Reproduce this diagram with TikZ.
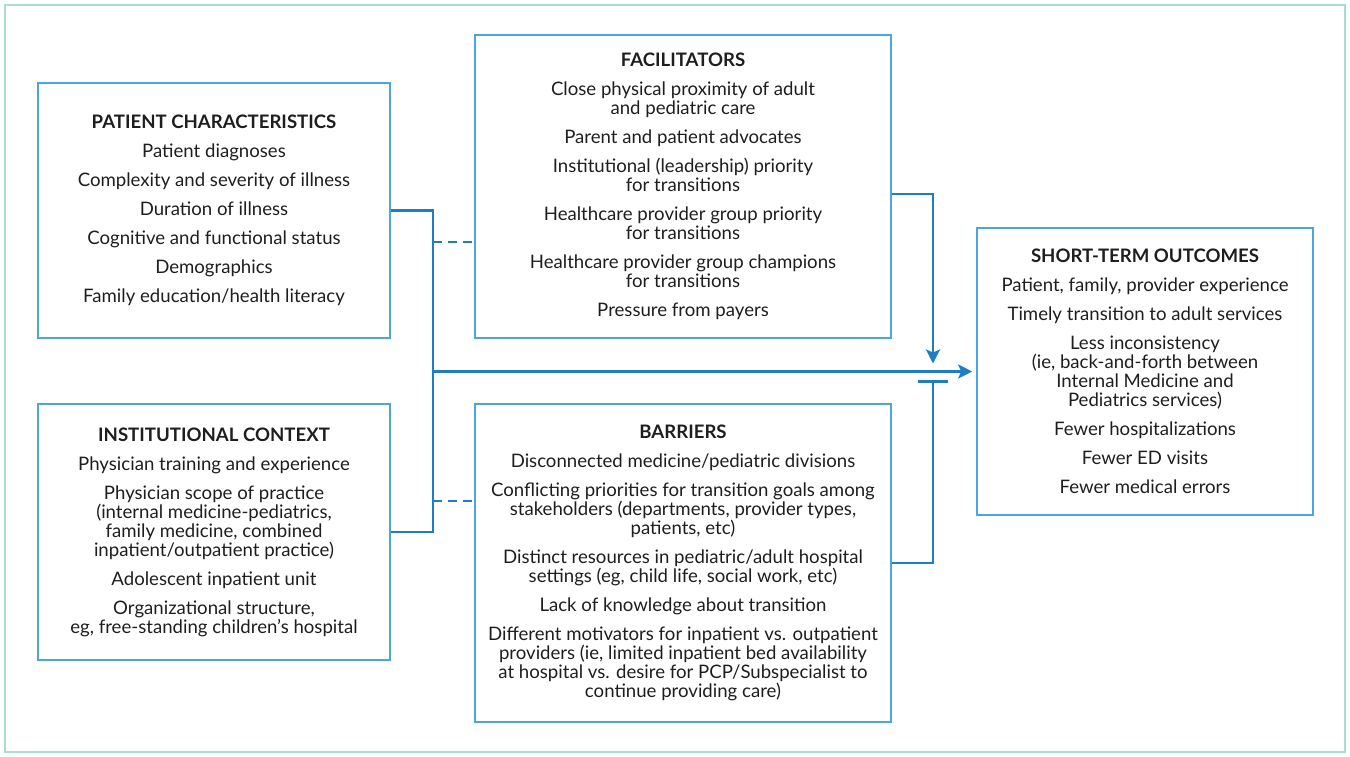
\documentclass[tikz,border=0pt]{standalone}
\usepackage{fontspec}
\setmainfont{Lato}
\usetikzlibrary{arrows.meta,calc}
\definecolor{boxblue}{HTML}{4BA6DE}
\definecolor{linkblue}{HTML}{1F7DC2}
\definecolor{framegreen}{HTML}{A8DFCB}
\definecolor{txt}{HTML}{1E1E1E}
\begin{document}
\begin{tikzpicture}[x=1pt,y=-1pt,
  box/.style={draw=boxblue,line width=1.6pt,align=center,text=txt,
    font=\fontsize{18.6}{19}\selectfont,inner sep=0pt},
  link/.style={draw=linkblue,line width=2.8pt},
  dlink/.style={link,dash pattern=on 9pt off 6pt},
  tip/.style={-{Stealth[length=14pt,width=14pt,inset=3pt]}}]
\useasboundingbox (0,0) rectangle (1350,756);
\draw[framegreen,line width=2.5pt] (5,5) rectangle (1345,752);

\node[box,minimum width=352pt,minimum height=255pt] (pc) at (214,210.5)
 {\textbf{PATIENT CHARACTERISTICS}\\[10pt]
  Patient diagnoses\\[10pt]
  Complexity and severity of illness\\[10pt]
  Duration of illness\\[10pt]
  Cognitive and functional status\\[10pt]
  Demographics\\[10pt]
  Family education/health literacy};

\node[box,minimum width=352pt,minimum height=256pt] (ic) at (214,532)
 {\textbf{INSTITUTIONAL CONTEXT}\\[10pt]
  Physician training and experience\\[10pt]
  Physician scope of practice\\
  (internal medicine-pediatrics,\\
  family medicine, combined\\
  inpatient/outpatient practice)\\[10pt]
  Adolescent inpatient unit\\[10pt]
  Organizational structure,\\
  eg, free-standing children’s hospital};

\node[box,minimum width=416pt,minimum height=303pt] (fac) at (683,186.5)
 {\textbf{FACILITATORS}\\[10pt]
  Close physical proximity of adult\\
  and pediatric care\\[10pt]
  Parent and patient advocates\\[10pt]
  Institutional (leadership) priority\\
  for transitions\\[10pt]
  Healthcare provider group priority\\
  for transitions\\[10pt]
  Healthcare provider group champions\\
  for transitions\\[10pt]
  Pressure from payers};

\node[box,minimum width=416pt,minimum height=318pt] (bar) at (683,563)
 {\textbf{BARRIERS}\\[10pt]
  Disconnected medicine/pediatric divisions\\[10pt]
  Conflicting priorities for transition goals among\\
  stakeholders (departments, provider types,\\
  patients, etc)\\[10pt]
  Distinct resources in pediatric/adult hospital\\
  settings (eg, child life, social work, etc)\\[10pt]
  Lack of knowledge about transition\\[10pt]
  Different motivators for inpatient vs. outpatient\\
  providers (ie, limited inpatient bed availability\\
  at hospital vs. desire for PCP/Subspecialist to\\
  continue providing care)};

\node[box,minimum width=336pt,minimum height=287pt] (out) at (1145,371.5)
 {\textbf{SHORT-TERM OUTCOMES}\\[10pt]
  Patient, family, provider experience\\[10pt]
  Timely transition to adult services\\[10pt]
  Less inconsistency\\
  (ie, back-and-forth between\\
  Internal Medicine and\\
  Pediatrics services)\\[10pt]
  Fewer hospitalizations\\[10pt]
  Fewer ED visits\\[10pt]
  Fewer medical errors};

\coordinate (jx) at (433,371.5);
\coordinate (mid) at (933,371.5);

\draw[link] (pc.east) -| (jx) |- (ic.east);
\draw[dlink] (433,242) -- (fac.west |- 0,242);
\draw[dlink] (433,501) -- (bar.west |- 0,501);
\draw[link,tip] (jx) -- ($(out.west)+(-4,0)$);
\draw[link,tip] ($(fac.east)+(0,7.5)$) -| ($(mid)+(0,-8)$);
\draw[link] (bar.east) -| ($(mid)+(0,10)$);
\draw[link] ($(mid)+(-15,10)$) -- ($(mid)+(15,10)$);
\end{tikzpicture}
\end{document}
